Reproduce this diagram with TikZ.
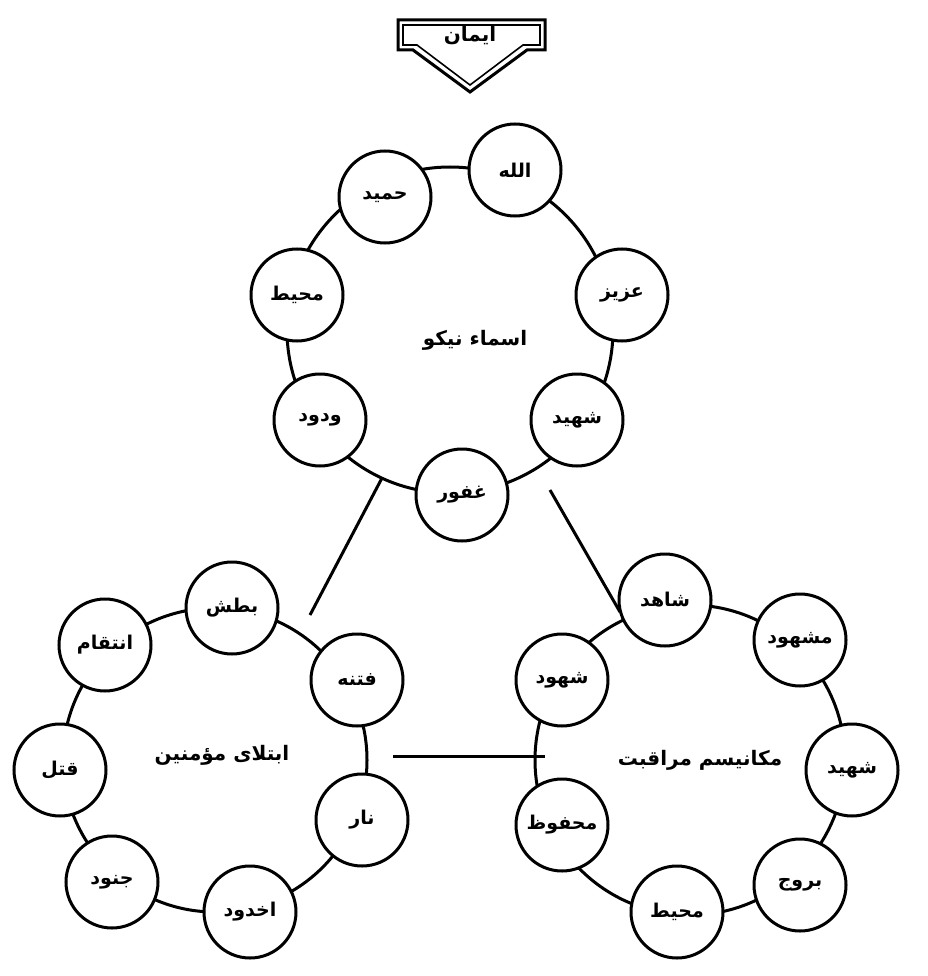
\documentclass[tikz,border=0pt]{standalone}
\usepackage{fontspec}
\newfontfamily\arab[Script=Arabic]{DejaVu Sans}
\TeXXeTstate=1
\newcommand{\ar}[1]{\beginR\arab\bfseries #1\endR}
\begin{document}
\begin{tikzpicture}[x=1pt,y=-1pt,
  ring/.style={line width=3pt},
  sc/.style={circle,draw,line width=3pt,fill=white,minimum size=92pt,inner sep=0pt,font=\fontsize{19}{22}\selectfont},
  lbl/.style={font=\fontsize{20}{24}\selectfont}]
\useasboundingbox (0,0) rectangle (927,976);
% rings
\coordinate (T) at (450,330);
\coordinate (L) at (215,760);
\coordinate (R) at (690,760);
\draw[ring] (T) circle (163);
\draw[ring] (L) circle (152);
\draw[ring] (R) circle (155);
% connectors between rings
\coordinate (a1) at (382,478); \coordinate (a2) at (310,615);
\coordinate (b1) at (550,490); \coordinate (b2) at (620,612);
\coordinate (c1) at (393,756); \coordinate (c2) at (545,756);
\draw[ring] (a1) -- (a2);
\draw[ring] (b1) -- (b2);
\draw[ring] (c1) -- (c2);
% top arrow
\draw[line width=3pt,line join=miter] (398,20) -- (545,20) -- (545,50) -- (527,50) -- (470,92) -- (413,50) -- (398,50) -- cycle;
\draw[line width=1.6pt] (403,25) -- (540,25) -- (540,45) -- (523,45) -- (470,85) -- (417,45) -- (403,45) -- cycle;
\node[lbl,fill=white,inner sep=1pt] (iman) at (470,36) {\ar{ایمان}};
% top ring nodes
\node[sc] (t1) at (515,170) {\ar{الله}};
\node[sc] (t2) at (385,197) {\ar{حمید}};
\node[sc] (t3) at (297,295) {\ar{محیط}};
\node[sc] (t4) at (320,420) {\ar{ودود}};
\node[sc] (t5) at (462,495) {\ar{غفور}};
\node[sc] (t6) at (577,420) {\ar{شهید}};
\node[sc] (t7) at (622,295) {\ar{عزیز}};
\node[lbl] (tc) at (475,340) {\ar{اسماء نیکو}};
% left ring nodes
\node[sc] (l1) at (232,608) {\ar{بطش}};
\node[sc] (l2) at (105,645) {\ar{انتقام}};
\node[sc] (l3) at (60,770) {\ar{قتل}};
\node[sc] (l4) at (112,882) {\ar{جنود}};
\node[sc] (l5) at (250,912) {\ar{اخدود}};
\node[sc] (l6) at (362,820) {\ar{نار}};
\node[sc] (l7) at (357,680) {\ar{فتنه}};
\node[lbl] (lc) at (222,755) {\ar{ابتلای مؤمنین}};
% right ring nodes
\node[sc] (r1) at (665,600) {\ar{شاهد}};
\node[sc] (r2) at (800,640) {\ar{مشهود}};
\node[sc] (r3) at (852,770) {\ar{شهید}};
\node[sc] (r4) at (800,885) {\ar{بروج}};
\node[sc] (r5) at (677,912) {\ar{محیط}};
\node[sc] (r6) at (562,825) {\ar{محفوظ}};
\node[sc] (r7) at (562,680) {\ar{شهود}};
\node[lbl] (rc) at (700,760) {\ar{مکانیسم مراقبت}};
\end{tikzpicture}
\end{document}
